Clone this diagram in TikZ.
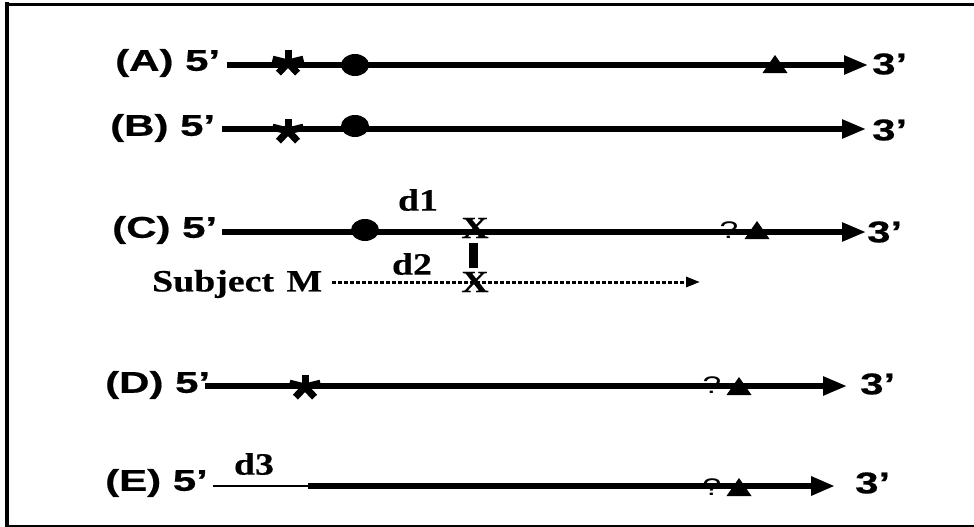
\documentclass[tikz,border=0pt]{standalone}
\usepackage{fontspec}
\usetikzlibrary{arrows.meta,shapes.geometric}
\newfontfamily\lsans[FakeStretch=1.4,FakeBold=0.6]{Liberation Sans}
\newfontfamily\qsans[FakeStretch=1.4]{Liberation Sans}
\newfontfamily\lserif[FakeStretch=1.22,FakeBold=0.4]{Liberation Serif}
\begin{document}
\begin{tikzpicture}[x=1pt,y=-1pt,
  lab/.style={font=\lsans\bfseries\fontsize{30}{31}\selectfont, inner sep=0pt, anchor=west},
  sl/.style={font=\lserif\bfseries\fontsize{31}{32}\selectfont, inner sep=0pt},
  qm/.style={font=\qsans\fontsize{24}{25}\selectfont, inner sep=0pt},
  strand/.style={line width=5.5pt, -{Triangle[length=24pt,width=18pt]}},
  dotline/.style={line width=3pt, dash pattern=on 4pt off 2pt, -{Triangle[length=14pt,width=10pt]}},
  blob/.style={ellipse, fill=black, minimum width=28pt, minimum height=22pt, inner sep=0pt},
  pics/astk/.style={code={\begin{scope}[xscale=1.3]
      \foreach \a in {90,18,162,234,306}{\draw[line width=7pt] (0,0) -- (\a:12.5pt);}
      \end{scope}}},
  pics/tri/.style={code={\fill (-12.5,9) -- (0,-9) -- (12.5,9) -- cycle;}}
]
\useasboundingbox (0,0) rectangle (974,527);
% frame
\draw[line width=4pt] (7,2) -- (7,530);
\draw[line width=3pt] (5,4.5) -- (980,4.5);
\draw[line width=2pt] (5,526) -- (980,526);

% Row A
\node[lab] (la) at (115,63) {(A) 5’};
\coordinate (a0) at (227,65);
\coordinate (a1) at (868,65);
\node[lab] (ra) at (872,64) {3’};
\draw[strand] (a0) -- (a1);
\pic at (288,63) {astk};
\node[blob] (da) at (355,65) {};
\pic at (775,64) {tri};

% Row B
\node[lab] (lb) at (110,128) {(B) 5’};
\coordinate (b0) at (222,129);
\coordinate (b1) at (866,129);
\node[lab] (rb) at (872,130) {3’};
\draw[strand] (b0) -- (b1);
\pic at (288,131) {astk};
\node[blob] (db) at (355,126) {};

% Row C
\node[lab] (lc) at (112,230) {(C) 5’};
\coordinate (c0) at (222,232);
\coordinate (c1) at (866,232);
\node[lab] (rc) at (867,232) {3’};
\draw[strand] (c0) -- (c1);
\node[blob] (dc) at (365,230) {};
\node[sl] (dA) at (418,200) {d1};
\node[sl] (xa) at (475,228) {X};
\node[fill=black, minimum width=9pt, minimum height=25pt, inner sep=0pt] (bar) at (473.5,255.5) {};
\node[qm] (qc) at (729,230) {?};
\pic at (757,230) {tri};
\node[sl, anchor=west] (subj) at (152,284) {Subject\hspace{3pt} M};
\coordinate (m0) at (332,282);
\coordinate (m1) at (700,282);
\draw[dotline] (m0) -- (m1);
\node[sl] (dB) at (412,264) {d2};
\node[sl] (xb) at (475,282) {X};

% Row D
\node[lab] (ld) at (105,385) {(D) 5’};
\coordinate (dd0) at (205,386);
\coordinate (dd1) at (847,386);
\node[lab] (rd) at (860,384) {3’};
\draw[strand] (dd0) -- (dd1);
\pic at (305,387) {astk};
\node[qm] (qd) at (712,385) {?};
\pic at (739,386) {tri};

% Row E
\node[lab] (le) at (105,483) {(E) 5’};
\coordinate (e0) at (213,486);
\coordinate (ej) at (308,486);
\coordinate (e1) at (835,486);
\node[lab] (re) at (855,483) {3’};
\draw[line width=1.5pt] (e0) -- (ej);
\draw[strand, line width=6.5pt] (ej) -- (e1);
\node[sl] (dC) at (254,464) {d3};
\node[qm] (qe) at (712,487) {?};
\pic at (739,487) {tri};
\end{tikzpicture}
\end{document}
